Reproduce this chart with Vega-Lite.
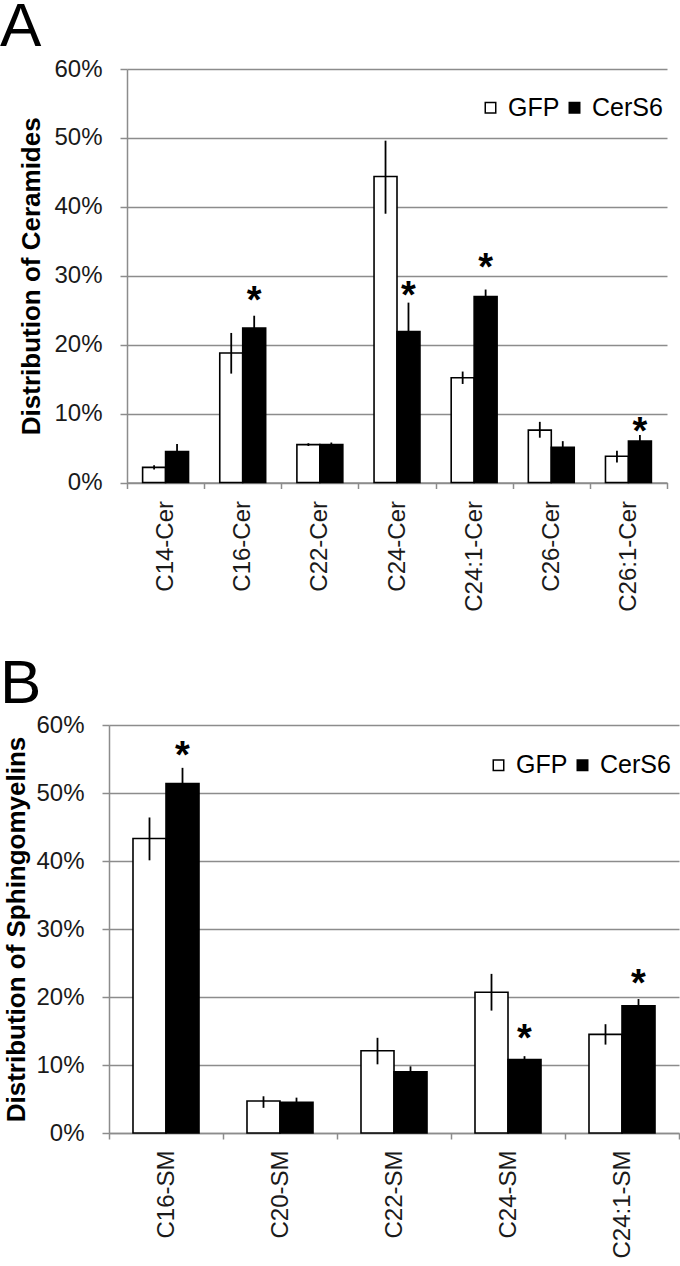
{
  "$schema": "https://vega.github.io/schema/vega-lite/v6.json",
  "background": "white",
  "padding": {"left": 0, "top": -4, "right": 0, "bottom": 0},
  "spacing": 40,
  "config": {
    "font": "Liberation Sans",
    "view": {"stroke": null},
    "axis": {
      "labelFont": "Liberation Sans", "labelFontSize": 24, "labelColor": "#1a1a1a",
      "domainColor": "#8c8c8c", "tickColor": "#8c8c8c", "gridColor": "#8c8c8c",
      "domainWidth": 1.5, "tickWidth": 1.5, "gridWidth": 1.5,
      "titleFont": "Liberation Sans", "titleFontWeight": "bold", "titleFontSize": 26, "titleColor": "#000"
    },
    "legend": {"labelFont": "Liberation Sans", "labelFontSize": 25, "labelColor": "#000"},
    "title": {"font": "Liberation Sans", "fontSize": 62, "fontWeight": "normal", "anchor": "start", "color": "#000"}
  },
  "datasets": {
    "cer": [
      {"lipid": "C14-Cer", "group": "GFP", "value": 2.2, "lo": 1.9, "hi": 2.5, "star": null},
      {"lipid": "C14-Cer", "group": "CerS6", "value": 4.5, "lo": 3.4, "hi": 5.6, "star": null},
      {"lipid": "C16-Cer", "group": "GFP", "value": 18.8, "lo": 15.8, "hi": 21.7, "star": null},
      {"lipid": "C16-Cer", "group": "CerS6", "value": 22.4, "lo": 20.6, "hi": 24.2, "star": 27.7},
      {"lipid": "C22-Cer", "group": "GFP", "value": 5.5, "lo": 5.3, "hi": 5.7, "star": null},
      {"lipid": "C22-Cer", "group": "CerS6", "value": 5.5, "lo": 5.2, "hi": 5.8, "star": null},
      {"lipid": "C24-Cer", "group": "GFP", "value": 44.4, "lo": 39.0, "hi": 49.6, "star": null},
      {"lipid": "C24-Cer", "group": "CerS6", "value": 21.9, "lo": 17.7, "hi": 26.1, "star": 28.4},
      {"lipid": "C24:1-Cer", "group": "GFP", "value": 15.2, "lo": 14.3, "hi": 16.1, "star": null},
      {"lipid": "C24:1-Cer", "group": "CerS6", "value": 27.0, "lo": 26.0, "hi": 28.0, "star": 32.4},
      {"lipid": "C26-Cer", "group": "GFP", "value": 7.6, "lo": 6.5, "hi": 8.8, "star": null},
      {"lipid": "C26-Cer", "group": "CerS6", "value": 5.1, "lo": 4.2, "hi": 6.0, "star": null},
      {"lipid": "C26:1-Cer", "group": "GFP", "value": 3.8, "lo": 2.9, "hi": 4.6, "star": null},
      {"lipid": "C26:1-Cer", "group": "CerS6", "value": 6.0, "lo": 5.1, "hi": 6.9, "star": 8.6}
    ],
    "sm": [
      {"lipid": "C16-SM", "group": "GFP", "value": 43.3, "lo": 40.1, "hi": 46.4, "star": null},
      {"lipid": "C16-SM", "group": "CerS6", "value": 51.4, "lo": 49.1, "hi": 53.7, "star": 56.7},
      {"lipid": "C20-SM", "group": "GFP", "value": 4.7, "lo": 3.7, "hi": 5.4, "star": null},
      {"lipid": "C20-SM", "group": "CerS6", "value": 4.5, "lo": 3.8, "hi": 5.2, "star": null},
      {"lipid": "C22-SM", "group": "GFP", "value": 12.1, "lo": 10.1, "hi": 14.0, "star": null},
      {"lipid": "C22-SM", "group": "CerS6", "value": 9.0, "lo": 8.2, "hi": 9.8, "star": null},
      {"lipid": "C24-SM", "group": "GFP", "value": 20.7, "lo": 18.0, "hi": 23.4, "star": null},
      {"lipid": "C24-SM", "group": "CerS6", "value": 10.8, "lo": 10.3, "hi": 11.3, "star": 15.1},
      {"lipid": "C24:1-SM", "group": "GFP", "value": 14.5, "lo": 13.0, "hi": 16.0, "star": null},
      {"lipid": "C24:1-SM", "group": "CerS6", "value": 18.7, "lo": 17.7, "hi": 19.7, "star": 23.3}
    ]
  },
  "vconcat": [
    {
      "title": {"text": "A", "frame": "group", "anchor": "start", "offset": -2, "dx": -109},
      "width": 558,
      "height": 413.5,
      "data": {"name": "cer"},
      "encoding": {
        "x": {
          "field": "lipid", "type": "nominal",
          "sort": ["C14-Cer", "C16-Cer", "C22-Cer", "C24-Cer", "C24:1-Cer", "C26-Cer", "C26:1-Cer"],
          "scale": {"range": [18, 558], "paddingInner": 0, "paddingOuter": 0},
          "axis": {"title": null, "labelAngle": -90, "tickBand": "extent", "tickSize": 6, "labelPadding": 12}
        },
        "xOffset": {"field": "group", "type": "nominal", "sort": ["GFP", "CerS6"], "scale": {"paddingInner": 0, "paddingOuter": 0.68}}
      },
      "layer": [
        {
          "mark": {"type": "bar", "stroke": "black", "strokeWidth": 1.6},
          "encoding": {
            "y": {
              "field": "value", "type": "quantitative",
              "scale": {"domain": [0, 60], "nice": false},
              "axis": {"title": "Distribution of Ceramides", "values": [0, 10, 20, 30, 40, 50, 60], "labelExpr": "datum.value + '%'", "tickSize": 7, "labelPadding": 18, "grid": true, "offset": -18, "titlePadding": 9}
            },
            "fill": {
              "field": "group", "type": "nominal",
              "scale": {"domain": ["GFP", "CerS6"], "range": ["white", "black"]},
              "legend": {"orient": "none", "legendX": 369, "legendY": 26, "direction": "horizontal", "title": null, "symbolType": "square", "symbolSize": 110, "symbolStrokeColor": "black", "symbolStrokeWidth": 1.5, "labelOffset": 5, "columnPadding": 2, "padding": 0}
            }
          }
        },
        {
          "mark": {"type": "rule", "color": "black", "strokeWidth": 1.8},
          "encoding": {"y": {"field": "lo", "type": "quantitative"}, "y2": {"field": "hi"}}
        },
        {
          "transform": [{"filter": "datum.star != null"}],
          "mark": {"type": "text", "text": "*", "fontSize": 38, "fontWeight": "bold", "font": "Liberation Sans", "baseline": "alphabetic", "dy": 21, "color": "black"},
          "encoding": {"y": {"field": "star", "type": "quantitative"}}
        }
      ]
    },
    {
      "title": {"text": "B", "frame": "group", "anchor": "start", "offset": -2.5, "dx": -109},
      "width": 570,
      "height": 408,
      "data": {"name": "sm"},
      "encoding": {
        "x": {
          "field": "lipid", "type": "nominal",
          "sort": ["C16-SM", "C20-SM", "C22-SM", "C24-SM", "C24:1-SM"],
          "scale": {"paddingInner": 0, "paddingOuter": 0},
          "axis": {"title": null, "labelAngle": -90, "tickBand": "extent", "tickSize": 6, "labelPadding": 11}
        },
        "xOffset": {"field": "group", "type": "nominal", "sort": ["GFP", "CerS6"], "scale": {"paddingInner": 0, "paddingOuter": 0.727}}
      },
      "layer": [
        {
          "mark": {"type": "bar", "stroke": "black", "strokeWidth": 1.6},
          "encoding": {
            "y": {
              "field": "value", "type": "quantitative",
              "scale": {"domain": [0, 60], "nice": false},
              "axis": {"title": "Distribution of  Sphingomyelins", "values": [0, 10, 20, 30, 40, 50, 60], "labelExpr": "datum.value + '%'", "tickSize": 7, "labelPadding": 18, "grid": true, "titlePadding": 6}
            },
            "fill": {
              "field": "group", "type": "nominal",
              "scale": {"domain": ["GFP", "CerS6"], "range": ["white", "black"]},
              "legend": {"orient": "none", "legendX": 377, "legendY": 27.5, "direction": "horizontal", "title": null, "symbolType": "square", "symbolSize": 110, "symbolStrokeColor": "black", "symbolStrokeWidth": 1.5, "labelOffset": 5, "columnPadding": 2, "padding": 0}
            }
          }
        },
        {
          "mark": {"type": "rule", "color": "black", "strokeWidth": 1.8},
          "encoding": {"y": {"field": "lo", "type": "quantitative"}, "y2": {"field": "hi"}}
        },
        {
          "transform": [{"filter": "datum.star != null"}],
          "mark": {"type": "text", "text": "*", "fontSize": 38, "fontWeight": "bold", "font": "Liberation Sans", "baseline": "alphabetic", "dy": 21, "color": "black"},
          "encoding": {"y": {"field": "star", "type": "quantitative"}}
        }
      ]
    }
  ],
  "resolve": {"scale": {"fill": "independent", "xOffset": "independent"}}
}
